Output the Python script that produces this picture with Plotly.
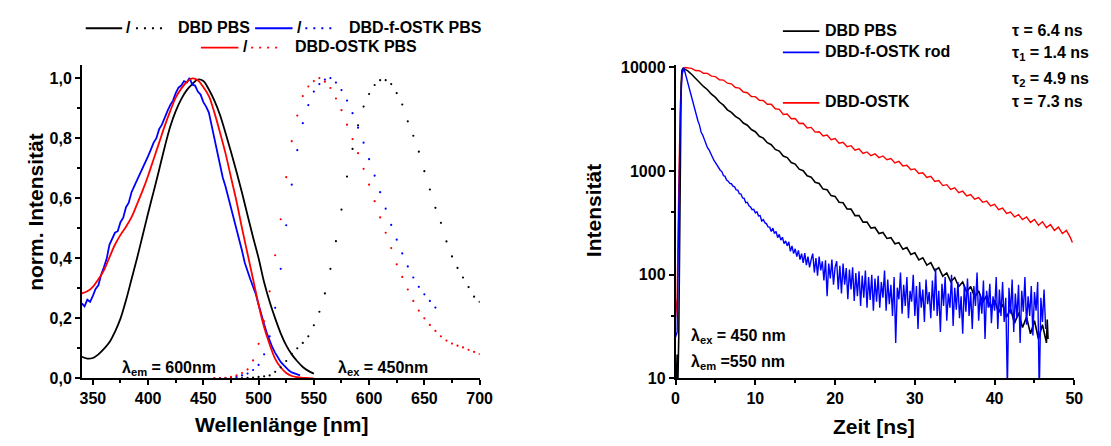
import numpy as np
import plotly.graph_objects as go

# ---------------- Left panel data (normalized spectra) ----------------
wl_exc = np.arange(340, 551, 5)
exc_dbd = [0.072, 0.066, 0.068, 0.08, 0.098, 0.12, 0.155, 0.199, 0.26, 0.33, 0.40, 0.475, 0.55, 0.622,
           0.695, 0.77, 0.838, 0.89, 0.93, 0.96, 0.98, 0.995, 0.99, 0.962, 0.925, 0.878, 0.818, 0.755,
           0.688, 0.618, 0.543, 0.47, 0.40, 0.32, 0.255, 0.2, 0.15, 0.11, 0.08, 0.057, 0.038, 0.025, 0.016]
exc_ostk = [0.283, 0.29, 0.305, 0.33, 0.36, 0.403, 0.445, 0.478, 0.505, 0.537, 0.58, 0.625, 0.675, 0.73,
            0.785, 0.84, 0.89, 0.935, 0.965, 0.987, 0.999, 0.993, 0.97, 0.94, 0.885, 0.82, 0.75, 0.67,
            0.59, 0.5, 0.415, 0.33, 0.245, 0.17, 0.113, 0.065, 0.037, 0.018, 0.008, 0.004, 0.002, 0.001, 0.0]
wl_exc_f = np.arange(340, 538, 2.5)
exc_fostk = [0.25, 0.24, 0.262, 0.255, 0.275, 0.298, 0.31, 0.345, 0.37, 0.398,
             0.445, 0.465, 0.485, 0.49, 0.52, 0.535, 0.57, 0.585, 0.62, 0.64,
             0.66, 0.675, 0.70, 0.715, 0.74, 0.762, 0.785, 0.80, 0.83, 0.845,
             0.87, 0.89, 0.91, 0.925, 0.95, 0.968, 0.975, 0.99, 0.985, 1.0,
             0.978, 0.975, 0.955, 0.945, 0.92, 0.905, 0.885, 0.84, 0.80, 0.755,
             0.715, 0.67, 0.64, 0.605, 0.565, 0.53, 0.50, 0.46, 0.425, 0.385,
             0.355, 0.33, 0.305, 0.28, 0.245, 0.21, 0.18, 0.15, 0.125, 0.103,
             0.085, 0.068, 0.055, 0.045, 0.035, 0.026, 0.02, 0.016, 0.012, 0.01]

wl_em = np.arange(460, 701, 5)
em_dbd = [0.0, 0.0, 0.0, 0.0, 0.0, 0.001, 0.002, 0.003, 0.005, 0.007, 0.01, 0.022, 0.037, 0.058, 0.082,
          0.1, 0.118, 0.14, 0.177, 0.222, 0.283, 0.365, 0.457, 0.562, 0.672, 0.764, 0.843, 0.905, 0.947,
          0.977, 0.993, 0.993, 0.98, 0.95, 0.912, 0.856, 0.808, 0.755, 0.69, 0.629, 0.568, 0.518, 0.456,
          0.406, 0.368, 0.336, 0.304, 0.272, 0.255]
em_ostk = [0.0, 0.0, 0.002, 0.005, 0.01, 0.018, 0.03, 0.06, 0.115, 0.19, 0.29, 0.41, 0.53, 0.67, 0.79,
           0.875, 0.94, 0.972, 0.99, 1.0, 0.988, 0.967, 0.932, 0.893, 0.845, 0.797, 0.75, 0.698, 0.645,
           0.59, 0.536, 0.485, 0.434, 0.38, 0.338, 0.296, 0.258, 0.226, 0.2, 0.178, 0.158, 0.14, 0.126,
           0.116, 0.109, 0.103, 0.095, 0.088, 0.081]
wl_em_f = np.arange(465, 661, 5)
em_fostk = [0.0, 0.0, 0.002, 0.005, 0.01, 0.016, 0.028, 0.045, 0.08, 0.14, 0.235, 0.365, 0.51, 0.645,
            0.76, 0.85, 0.91, 0.955, 0.98, 0.995, 1.0, 0.985, 0.96, 0.925, 0.883, 0.835, 0.785, 0.73,
            0.675, 0.62, 0.565, 0.511, 0.462, 0.416, 0.373, 0.336, 0.305, 0.28, 0.258, 0.236]

# ---------------- Right panel data (decays) ----------------
t_black_rise = [0.0, 0.1, 0.2, 0.3, 0.4, 0.5, 0.6, 0.7, 0.8, 0.9, 1.0]
black_rise = [12, 10, 17, 10, 25, 300, 2500, 7000, 9400, 9750, 9700]
black_decay = [9330, 8600, 7810, 7250, 6560, 6100, 5520, 5140, 4640, 4330,
               3900, 3690, 3370, 3200, 2910, 2770, 2520, 2400, 2170, 2080,
               1880, 1800, 1620, 1560, 1400, 1350, 1210, 1170, 1045, 1010,
               900, 875, 780, 760, 670, 660, 580, 570, 500, 495,
               432, 430, 372, 372, 322, 322, 282, 286, 250, 256,
               224, 228, 199, 204, 176, 183, 157, 163, 139, 146,
               124, 131, 110, 117, 97, 104, 86, 94, 77, 85,
               68, 77, 61, 70, 54, 63, 48, 57, 43, 52,
               39, 47, 34, 43, 31, 39, 27, 36, 24, 33,
               22]
t_black_end = [46.6, 46.7]
black_end = [37, 24]

t_red_rise = [0.0, 0.2, 0.4, 0.6, 0.8, 1.0, 1.2]
red_rise = [38, 60, 700, 4500, 8500, 9700, 10000]
red_decay = [9950, 9800, 9350, 9300, 8800, 8780, 8250, 8150, 7620, 7560,
             7050, 6950, 6400, 6320, 5800, 5700, 5250, 5230, 4820, 4800,
             4420, 4420, 4000, 3950, 3520, 3560, 3200, 3220, 2880, 2900,
             2610, 2640, 2380, 2400, 2180, 2230, 2010, 2060, 1860, 1900,
             1720, 1760, 1590, 1640, 1480, 1530, 1410, 1470, 1350, 1400,
             1290, 1320, 1200, 1240, 1120, 1140, 1030, 1050, 950, 965,
             870, 890, 795, 810, 725, 740, 665, 690, 620, 640,
             575, 595, 535, 555, 500, 515, 462, 478, 425, 440,
             390, 402, 362, 380, 340, 362, 320, 342, 300, 325,
             285, 305, 268, 288, 250, 268, 228]
t_red_end = [49.75]
red_end = [205]

t_blue_rise = [0.0, 0.2, 0.4, 0.6, 0.8, 1.0]
blue_rise = [25, 28, 400, 3500, 8500, 10000]
blue_decay = [8900, 7800, 6880, 6060, 5150, 4500, 3860, 3500, 3060, 2780,
              2380, 2230, 2020, 1880, 1680, 1600, 1465, 1395, 1275, 1210,
              1130, 1090, 1020, 990, 905, 890, 820, 800, 760, 755,
              715, 705, 660, 655, 605, 600, 550, 545, 495, 500,
              462, 450, 425, 428, 395,
              405, 370, 372, 330, 340, 318, 310, 290, 288, 262,
              282, 250, 262, 228, 245, 216, 230, 200, 212, 190,
              208, 168, 190, 160, 178, 150, 172, 140, 160, 130,
              162, 124, 150, 118, 140,
              160, 105, 145, 98, 150, 110, 135, 88, 138, 62,
              128, 92, 140, 80, 118,
              135, 72, 122, 66, 128, 80, 116, 58, 112, 72,
              118, 56, 104, 62, 108, 50, 98, 60, 110, 48,
              95, 57, 100, 45, 92,
              55, 98, 48, 85, 60, 110, 45, 90, 52, 80,
              40, 95, 22, 75, 58, 105, 42, 80, 50, 95,
              38, 70, 55, 100, 40, 78, 30, 85, 48, 72,
              35, 90, 52, 68, 38, 88, 45, 115, 40, 70,
              28, 82, 50, 95, 36, 66, 48, 100, 32, 75,
              46, 85, 38, 62, 27, 80, 44, 92, 40, 68,
              30, 78, 50, 105, 36, 65, 42, 88, 24, 70,
              48, 82, 34, 62, 45, 95, 30, 72, 40, 85,
              35, 60, 8, 75, 42, 90, 28, 66, 38, 80,
              22, 70, 44, 95, 33, 62, 40, 78, 26, 68,
              45, 85, 7, 60, 35, 72, 30]

t_black = list(t_black_rise) + list(np.round(np.arange(1.5, 46.51, 0.5), 2)) + t_black_end
y_black = black_rise + black_decay + black_end
t_red = list(t_red_rise) + list(np.round(np.arange(1.5, 49.51, 0.5), 2)) + t_red_end
y_red = red_rise + red_decay + red_end
t_blue = list(t_blue_rise) + list(np.round(1.2 + 0.2 * np.arange(len(blue_decay)), 2))
y_blue = blue_rise + blue_decay

# ---------------- Figure ----------------
W, H = 1111, 446
FONT = "Liberation Sans, Arial, sans-serif"


def px(x):
    return x / W


def py(y):
    return 1 - y / H


BLACK, BLUE, RED = "#000000", "#0000ff", "#ff0000"
fig = go.Figure()

fig.add_trace(go.Scatter(x=wl_exc, y=exc_dbd, mode="lines", line=dict(color=BLACK, width=1.8, shape="spline"), xaxis="x", yaxis="y"))
fig.add_trace(go.Scatter(x=wl_exc_f, y=exc_fostk, mode="lines", line=dict(color=BLUE, width=1.8), xaxis="x", yaxis="y"))
fig.add_trace(go.Scatter(x=wl_exc, y=exc_ostk, mode="lines", line=dict(color=RED, width=1.8, shape="spline"), xaxis="x", yaxis="y"))
for wl, em, c in [(wl_em, em_dbd, BLACK), (wl_em_f, em_fostk, BLUE), (wl_em, em_ostk, RED)]:
    fig.add_trace(go.Scatter(x=wl, y=em, mode="markers", marker=dict(color=c, size=2.2), xaxis="x", yaxis="y"))

fig.add_trace(go.Scatter(x=t_red, y=y_red, mode="lines", line=dict(color=RED, width=1.4), xaxis="x2", yaxis="y2"))
fig.add_trace(go.Scatter(x=t_black, y=y_black, mode="lines", line=dict(color=BLACK, width=1.6), xaxis="x2", yaxis="y2"))
fig.add_trace(go.Scatter(x=t_blue, y=y_blue, mode="lines", line=dict(color=BLUE, width=1.4), xaxis="x2", yaxis="y2"))

ydom = [py(385.5), py(61.5)]
tickfont = dict(family=FONT, size=16, color="black", weight="bold")
common = dict(showline=True, linecolor="black", linewidth=1.6, ticks="outside", ticklen=5, tickwidth=1.5,
              tickcolor="black", showgrid=False, zeroline=False, tickfont=tickfont)

fig.update_layout(
    width=W, height=H, margin=dict(l=0, r=0, t=0, b=0),
    plot_bgcolor="white", paper_bgcolor="white", showlegend=False,
    xaxis=dict(domain=[px(79), px(483)], range=[340, 700], anchor="y",
               tickvals=list(range(350, 701, 50)),
               minor=dict(tickvals=list(range(375, 700, 50)), ticks="outside", ticklen=3, tickwidth=1.5,
                          tickcolor="black", showgrid=False),
               **common),
    yaxis=dict(domain=ydom, range=[0, 1.045], anchor="x",
               tickvals=[0, 0.2, 0.4, 0.6, 0.8, 1.0],
               ticktext=["0,0", "0,2", "0,4", "0,6", "0,8", "1,0"],
               minor=dict(tickvals=[0.1, 0.3, 0.5, 0.7, 0.9], ticks="outside", ticklen=3, tickwidth=1.5,
                          tickcolor="black", showgrid=False),
               **common),
    xaxis2=dict(domain=[px(682), px(1087)], range=[0, 50], anchor="y2",
                tickvals=[0, 10, 20, 30, 40, 50],
                minor=dict(tickvals=[5, 15, 25, 35, 45], ticks="outside", ticklen=3, tickwidth=1.5,
                           tickcolor="black", showgrid=False),
                **common),
    yaxis2=dict(domain=ydom, type="log", range=[1, 4.028], anchor="x2",
                tickvals=[10, 100, 1000, 10000], ticktext=["10", "100", "1000", "10000"],
                minor=dict(tickvals=[40, 400, 4000], ticks="outside", ticklen=3, tickwidth=1.5,
                           tickcolor="black", showgrid=False),
                **common),
)

shapes = []
annots = []


def text(x, y, s, size=16, anchor="left", angle=0):
    annots.append(dict(x=px(x), y=py(y), xref="paper", yref="paper", text=s, showarrow=False,
                       xanchor=anchor, yanchor="middle", textangle=angle,
                       font=dict(family=FONT, size=size, color="black", weight="bold")))


def seg(x0, x1, y, color, dotted=False):
    shapes.append(dict(type="line", xref="paper", yref="paper", x0=px(x0), x1=px(x1), y0=py(y), y1=py(y),
                       line=dict(color=color, width=1.8,
                                 dash="2px,6px" if dotted else "solid")))


seg(83, 120, 24, BLACK); text(126, 23, "/", anchor="center"); seg(134, 166, 24, BLACK, True)
text(175, 23, "DBD PBS")
seg(255, 293, 24, BLUE); text(300, 23, "/", anchor="center"); seg(306, 338, 24, BLUE, True)
text(348, 23, "DBD-f-OSTK PBS")
seg(200, 238, 44, RED); text(245, 43, "/", anchor="center"); seg(251, 283, 44, RED, True)
text(293, 43, "DBD-OSTK PBS")

seg(791, 828, 27, BLACK); text(832, 26, "DBD PBS")
seg(791, 828, 49, BLUE); text(832, 48, "DBD-f-OSTK rod")
seg(791, 828, 101, RED); text(832, 100, "DBD-OSTK")
text(1022, 26, "τ = 6.4 ns")
text(1022, 50, "τ<sub>1</sub> = 1.4 ns")
text(1022, 77, "τ<sub>2</sub> = 4.9 ns")
text(1022, 100, "τ = 7.3 ns")

text(118, 375, "λ<sub>em</sub> = 600nm")
text(337, 375, "λ<sub>ex</sub> = 450nm")
text(696, 342, "λ<sub>ex</sub> = 450 nm")
text(696, 369, "λ<sub>em</sub> =550 nm")

text(282, 433, "Wellenlänge [nm]", size=21, anchor="center")
text(884, 435, "Zeit [ns]", size=21, anchor="center")
text(32, 214, "norm. Intensität", size=21, anchor="center", angle=-90)
text(598, 212, "Intensität", size=21, anchor="center", angle=-90)

fig.update_layout(shapes=shapes, annotations=annots)
fig.write_html("out.html")
